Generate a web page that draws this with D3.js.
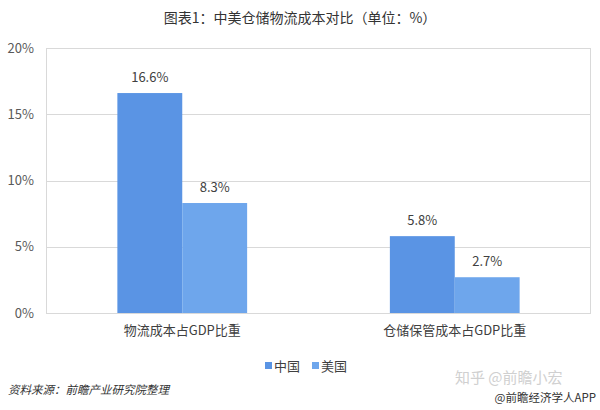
<!DOCTYPE html>
<html>
<head>
<meta charset="utf-8">
<script src="https://cdn.jsdelivr.net/npm/d3@7"></script>
<style>
  body { margin: 0; background: #fff; }
  svg text { font-family: "Noto Sans CJK SC", "Noto Sans", sans-serif; }
</style>
</head>
<body>
<svg width="600" height="410"></svg>
<script>
// data
var categories = ["物流成本占GDP比重", "仓储保管成本占GDP比重"];
var seriesNames = ["中国", "美国"];
var chinaValues = [16.6, 5.8];
var usaValues = [8.3, 2.7];
var yTicks = [0, 5, 10, 15, 20];
var colors = ["#5a94e4", "#6ea6ec"];

var svg = d3.select("svg"),
    margin = {top: 48, right: 9, bottom: 97, left: 46},
    width = +svg.attr("width") - margin.left - margin.right,
    height = +svg.attr("height") - margin.top - margin.bottom;

var rows = categories.map(function(c, i) {
  return {cat: c, values: [chinaValues[i], usaValues[i]]};
});

// title
svg.append("text")
  .attr("x", 300).attr("y", 23)
  .attr("text-anchor", "middle")
  .attr("font-size", 14)
  .attr("fill", "#333")
  .text("图表1：中美仓储物流成本对比（单位：%）");

var g = svg.append("g").attr("transform", "translate(" + margin.left + "," + margin.top + ")");

var x0 = d3.scaleBand().domain(categories).range([0, width]).paddingInner(0).paddingOuter(0);
var x1 = d3.scaleBand().domain(seriesNames).range([0, x0.bandwidth()]).paddingInner(0).paddingOuter(1.1);
var y = d3.scaleLinear().domain([0, 20]).range([height, 0]);

// grid + frame
g.append("g")
  .selectAll("line")
  .data(yTicks)
  .enter().append("line")
  .attr("x1", 0).attr("x2", width)
  .attr("y1", function(d) { return Math.round(y(d)) + 0.5; })
  .attr("y2", function(d) { return Math.round(y(d)) + 0.5; })
  .attr("stroke", "#d9d9d9");
g.append("rect")
  .attr("x", 0.5).attr("y", 0.5)
  .attr("width", width - 1).attr("height", height)
  .attr("fill", "none")
  .attr("stroke", "#d9d9d9");

// y axis labels
var yAxis = g.append("g")
  .call(d3.axisLeft(y).tickValues(yTicks).tickSize(0).tickPadding(12).tickFormat(function(d) { return d + "%"; }));
yAxis.select(".domain").remove();
yAxis.selectAll("text")
  .attr("font-size", 13)
  .attr("fill", "#595959")
  .style("font-family", "\"Noto Sans CJK SC\", sans-serif");

// bars
var groups = g.selectAll(".grp")
  .data(rows)
  .enter().append("g")
  .attr("class", "grp")
  .attr("transform", function(d) { return "translate(" + x0(d.cat) + ",0)"; });

groups.selectAll("rect")
  .data(function(d) { return d.values.map(function(v, i) { return {name: seriesNames[i], v: v, i: i}; }); })
  .enter().append("rect")
  .attr("x", function(d) { return x1(d.name); })
  .attr("y", function(d) { return y(d.v); })
  .attr("width", x1.bandwidth())
  .attr("height", function(d) { return y(0) - y(d.v); })
  .attr("fill", function(d) { return colors[d.i]; });

groups.selectAll(".val")
  .data(function(d) { return d.values.map(function(v, i) { return {name: seriesNames[i], v: v}; }); })
  .enter().append("text")
  .attr("class", "val")
  .attr("x", function(d) { return x1(d.name) + x1.bandwidth() / 2; })
  .attr("y", function(d) { return y(d.v) - 11; })
  .attr("text-anchor", "middle")
  .attr("font-size", 13)
  .attr("fill", "#404040")
  .text(function(d) { return d.v.toFixed(1) + "%"; });

// category labels
var xAxis = g.append("g")
  .attr("transform", "translate(0," + height + ")")
  .call(d3.axisBottom(x0).tickSize(0).tickPadding(13));
xAxis.select(".domain").remove();
xAxis.selectAll("text")
  .attr("font-size", 13)
  .attr("fill", "#404040")
  .style("font-family", "\"Noto Sans CJK SC\", sans-serif");

// legend
var legendX = [265, 312];
var legend = svg.append("g");
seriesNames.forEach(function(name, i) {
  legend.append("rect")
    .attr("x", legendX[i]).attr("y", 362)
    .attr("width", 7).attr("height", 7)
    .attr("fill", colors[i]);
  legend.append("text")
    .attr("x", legendX[i] + 9).attr("y", 370.5)
    .attr("font-size", 13)
    .attr("fill", "#404040")
    .text(name);
});

// source note
svg.append("text")
  .attr("x", 8).attr("y", 394)
  .attr("font-size", 11.5)
  .attr("font-style", "italic")
  .attr("fill", "#333")
  .text("资料来源：前瞻产业研究院整理");

// watermarks
svg.append("text")
  .attr("x", 455).attr("y", 383)
  .attr("font-size", 15)
  .attr("fill", "#d0d0d0")
  .text("知乎 @前瞻小宏");
svg.append("text")
  .attr("x", 596).attr("y", 402)
  .attr("text-anchor", "end")
  .attr("font-size", 11.5)
  .attr("fill", "#333")
  .text("@前瞻经济学人APP");
</script>
</body>
</html>
